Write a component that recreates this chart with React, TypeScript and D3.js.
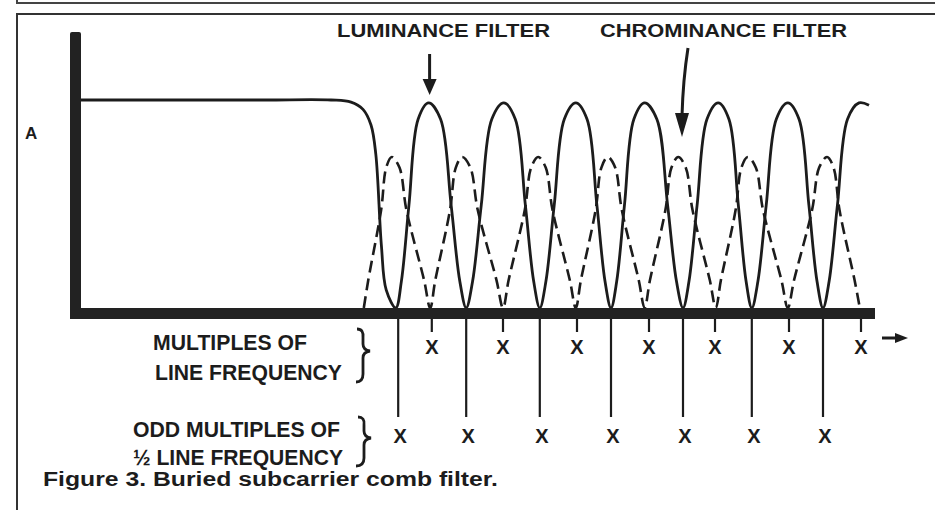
import React from "react";
import * as d3 from "d3";

// ---- data (frequency in arbitrary units 0..100, amplitude 0..1) ----
const lumaPassband: [number, number][] = [
  [0.75, 1], [8, 1], [16, 1], [24, 1], [32, 1], [34.5, 0.99], [36, 0.955], [37, 0.88],
  [37.6, 0.74], [38.3, 0.3], [38.9, 0.087],
];
const lumaTroughs = [40.1, 48.9, 58.1, 67.0, 76.0, 84.6, 93.5];
const lumaPeaks = [44.2, 53.6, 62.6, 71.2, 80.4, 89.1, 98.0];
const lumaPeakLevel = 0.986;
const lumaEnd: [number, number] = [99.25, 0.975];

const chromaTroughs = [36.1, 44.4, 53.5, 62.6, 71.2, 80.1, 89.1, 98.1];
const chromaPeaks = [39.6, 48.4, 57.9, 66.6, 75.4, 84.1, 94.0];
const chromaPeakLevel = 0.726;

const lineMultiples = [44.6, 53.5, 62.75, 71.75, 80.0, 89.25, 98.25];
const halfLineMultiples = [40.4, 48.9, 58.1, 67.0, 76.0, 84.6, 93.5];

const topLabels = ["LUMINANCE FILTER", "CHROMINANCE FILTER"];
const rowLabels = [
  ["MULTIPLES OF", "LINE FREQUENCY"],
  ["ODD MULTIPLES OF", "½ LINE FREQUENCY"],
];
const yLabel = "A";
const caption = "Figure 3. Buried subcarrier comb filter.";

// lobe side shapes (fraction of half-width, fraction of height)
const lumaSide: [number, number][] = [[0.17, 0.13], [0.4, 0.5], [0.68, 0.92]];
const chromaSide: [number, number][] = [[0.16, 0.185], [0.62, 0.65], [0.8, 0.93]];

const W = 935, H = 510;
const INK = "#1c1c1c";
const FONT = "'Liberation Sans', Arial, Helvetica, sans-serif";

const x = d3.scaleLinear().domain([0, 100]).range([75, 875]);
const y = d3.scaleLinear().domain([0, 1]).range([308, 100]);

function buildComb(troughs: number[], peaks: number[], level: number, side: [number, number][]) {
  const pts: [number, number][] = [];
  peaks.forEach((p, i) => {
    const a = troughs[i];
    pts.push([a, 0]);
    side.forEach(([fx, fy]) => pts.push([a + (p - a) * fx, level * fy]));
    pts.push([p, level]);
    const b = troughs[i + 1];
    if (b !== undefined) {
      [...side].reverse().forEach(([fx, fy]) => pts.push([b - (b - p) * fx, level * fy]));
    }
  });
  return pts;
}

export default function App() {
  const line = d3
    .line<[number, number]>()
    .x((d) => x(d[0]))
    .y((d) => y(d[1]))
    .curve(d3.curveCatmullRom.alpha(0.5));

  const lumaPts = [...lumaPassband, ...buildComb(lumaTroughs, lumaPeaks, lumaPeakLevel, lumaSide), lumaEnd];
  const chromaPts = buildComb(chromaTroughs, chromaPeaks, chromaPeakLevel, chromaSide);
  chromaPts.push([chromaTroughs[chromaTroughs.length - 1], 0]);

  const axisY = y(0);
  const axisBottom = axisY + 11;

  const bold = { fontFamily: FONT, fontWeight: 700, fill: INK } as const;

  return (
    <svg width={W} height={H} viewBox={`0 0 ${W} ${H}`}
      style={{ position: "absolute", left: 0, top: 0, background: "#fff" }}>
      {/* frame */}
      <path d={`M17,0 V3 H935`} stroke="#444" strokeWidth={2} fill="none" />
      <path d={`M17,${H} V14 H935`} stroke="#333" strokeWidth={2} fill="none" />

      {/* top labels & arrows */}
      <text x={337} y={37} fontSize={19} textLength={213} lengthAdjust="spacingAndGlyphs" style={bold}>{topLabels[0]}</text>
      <text x={600} y={37} fontSize={19} textLength={247} lengthAdjust="spacingAndGlyphs" style={bold}>{topLabels[1]}</text>
      <line x1={x(lumaPeaks[0]) + 1} x2={x(lumaPeaks[0]) + 1} y1={54} y2={82} stroke={INK} strokeWidth={3} />
      <path d={`M${x(lumaPeaks[0]) - 6},79 L${x(lumaPeaks[0]) + 8},79 L${x(lumaPeaks[0]) + 1},95 Z`} fill={INK} />
      <path d={`M688,48 Q683,80 682,116`} stroke={INK} strokeWidth={3} fill="none" />
      <path d={`M675,113 L689,113 L682,137 Z`} fill={INK} />

      {/* y label */}
      <text x={25} y={139} fontSize={17} style={bold}>{yLabel}</text>

      {/* curves */}
      <path d={line(chromaPts) ?? ""} fill="none" stroke={INK} strokeWidth={2.6} strokeDasharray="12 6" />
      <path d={line(lumaPts) ?? ""} fill="none" stroke={INK} strokeWidth={2.8} />

      {/* axes */}
      <rect x={70} y={32} width={11} height={axisBottom - 32} rx={2} fill="#222" />
      <rect x={70} y={axisY} width={x(100) - 70} height={11} fill="#222" />
      {/* frequency arrow */}
      <line x1={882} x2={897} y1={338} y2={338} stroke={INK} strokeWidth={3} />
      <path d="M895,333 L908,338 L895,343 Z" fill={INK} />

      {/* multiples of line frequency */}
      {lineMultiples.map((f, i) => (
        <g key={`lm${i}`}>
          <line x1={x(f)} x2={x(f)} y1={axisBottom} y2={332} stroke={INK} strokeWidth={2.2} />
          <text x={x(f)} y={354} fontSize={20} textAnchor="middle" style={bold}>X</text>
        </g>
      ))}
      {/* odd multiples of half line frequency */}
      {halfLineMultiples.map((f, i) => (
        <g key={`hm${i}`}>
          <line x1={x(f)} x2={x(f)} y1={axisBottom} y2={417} stroke={INK} strokeWidth={2.2} />
          <text x={x(f) + 2} y={443} fontSize={20} textAnchor="middle" style={bold}>X</text>
        </g>
      ))}

      {/* row labels */}
      <text x={153} y={350} fontSize={22} textLength={154} lengthAdjust="spacingAndGlyphs" style={bold}>{rowLabels[0][0]}</text>
      <text x={155} y={380} fontSize={22} textLength={187} lengthAdjust="spacingAndGlyphs" style={bold}>{rowLabels[0][1]}</text>
      <text x={133} y={437} fontSize={22} textLength={207} lengthAdjust="spacingAndGlyphs" style={bold}>{rowLabels[1][0]}</text>
      <text x={133} y={465} fontSize={22} textLength={210} lengthAdjust="spacingAndGlyphs" style={bold}>{rowLabels[1][1]}</text>

      {/* braces */}
      <path d="M357,329 Q364,329 363,338 L363,344 Q363,350 370,351 Q363,352 363,358 L363,374 Q363,382 356,382"
        fill="none" stroke={INK} strokeWidth={2.8} />
      <path d="M358,417 Q365,417 364,425 L364,431 Q364,437 371,438 Q364,439 364,445 L364,458 Q364,466 356,466"
        fill="none" stroke={INK} strokeWidth={2.8} />

      {/* caption */}
      <text x={43} y={486} fontSize={20} textLength={455} lengthAdjust="spacingAndGlyphs" style={bold}>{caption}</text>
    </svg>
  );
}
